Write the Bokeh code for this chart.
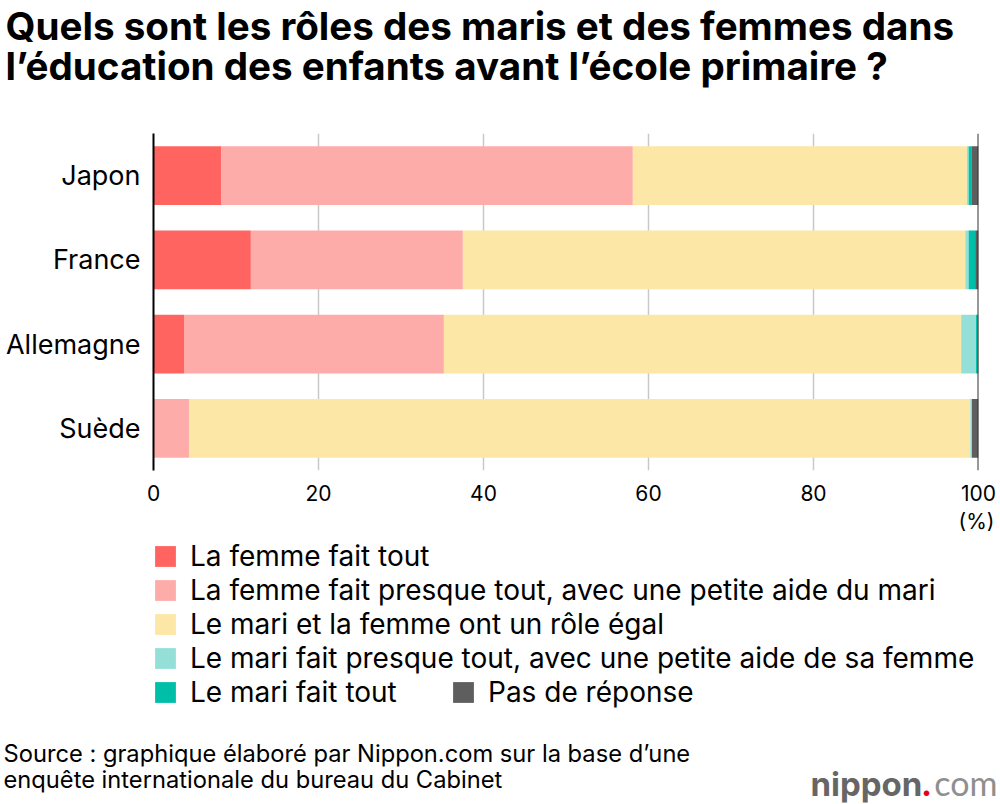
from bokeh.plotting import figure
from bokeh.layouts import column
from bokeh.models import (Range1d, FactorRange, Label, Legend, LegendItem, Span,
                          ColumnDataSource, FixedTicker)
from bokeh.embed import file_html
from bokeh.resources import INLINE

# ---- data -------------------------------------------------------------
countries = ["Japon", "France", "Allemagne", "Suède"]
femme_tout = [8.2, 11.8, 3.7, 0.0]
femme_presque = [49.9, 25.7, 31.5, 4.3]
role_egal = [40.5, 60.9, 62.7, 94.7]
mari_presque = [0.2, 0.4, 1.8, 0.2]
mari_tout = [0.4, 0.8, 0.2, 0.0]
sans_reponse = [0.8, 0.4, 0.1, 0.8]

series_keys = ["femme_tout", "femme_presque", "role_egal",
               "mari_presque", "mari_tout", "sans_reponse"]
series_labels = [
    "La femme fait tout",
    "La femme fait presque tout, avec une petite aide du mari",
    "Le mari et la femme ont un rôle égal",
    "Le mari fait presque tout, avec une petite aide de sa femme",
    "Le mari fait tout",
    "Pas de réponse",
]
colors = ["#FF6461", "#FEACA9", "#FCE7A6", "#94E0D8", "#00BFA9", "#5E5E5E"]
x_ticks = [0, 20, 40, 60, 80, 100]
unit_label = "(%)"

title_lines = ["Quels sont les rôles des maris et des femmes dans",
               "l’éducation des enfants avant l’école primaire ?"]
source_lines = ["Source : graphique élaboré par Nippon.com sur la base d’une",
                "enquête internationale du bureau du Cabinet"]

FONT = "Inter"
W = 1000
TOP_H = 133
MAIN_H = 375
BOT_H = 804 - TOP_H - MAIN_H

source = ColumnDataSource(dict(
    country=countries,
    femme_tout=femme_tout,
    femme_presque=femme_presque,
    role_egal=role_egal,
    mari_presque=mari_presque,
    mari_tout=mari_tout,
    sans_reponse=sans_reponse,
))


def blank_fig(height, **kw):
    f = figure(width=W, height=height, title=None,
               x_axis_type=None, y_axis_type=None,
               output_backend="svg", toolbar_location=None,
               min_border=0, frame_align=False, **kw)
    f.outline_line_color = None
    f.grid.visible = False
    return f


def add_label(fig, text, x, y, size, bold=False, color="black", align="left",
              font=FONT):
    fig.add_layout(Label(x=x, y=y, x_units="screen", y_units="screen", text=text,
                         text_font=font, text_font_size=size,
                         text_font_style="bold" if bold else "normal",
                         text_color=color, text_align=align,
                         text_baseline="middle"))


# ---- title ------------------------------------------------------------
top = blank_fig(TOP_H, x_range=Range1d(0, 1), y_range=Range1d(0, 1))
add_label(top, title_lines[0], 5, TOP_H - 25, "38.6px", bold=True)
add_label(top, title_lines[1], 5, TOP_H - 65, "38.6px", bold=True)

# ---- main chart -------------------------------------------------------
p = figure(width=W, height=MAIN_H, title=None,
           y_range=FactorRange(factors=list(reversed(countries))),
           x_range=Range1d(0, 100),
           output_backend="svg", toolbar_location=None,
           min_border_left=153, min_border_right=22,
           min_border_top=0, min_border_bottom=MAIN_H - 337,
           frame_align=False)
p.outline_line_color = None

renderers = p.hbar_stack(series_keys, y="country", height=0.7, color=colors,
                         line_color=None, source=source)

p.xaxis.ticker = FixedTicker(ticks=x_ticks)
p.xaxis.axis_line_color = None
p.xaxis.major_tick_line_color = None
p.xaxis.minor_tick_line_color = None
p.xaxis.major_tick_out = 0
p.xaxis.major_label_standoff = 14
p.xaxis.major_label_text_font = FONT
p.xaxis.major_label_text_font_size = "21px"
p.xaxis.major_label_text_color = "black"

p.yaxis.axis_line_color = "black"
p.yaxis.axis_line_width = 2
p.yaxis.major_tick_line_color = None
p.yaxis.minor_tick_line_color = None
p.yaxis.major_tick_out = 0
p.yaxis.major_label_standoff = 13
p.yaxis.major_label_text_font = FONT
p.yaxis.major_label_text_font_size = "27px"
p.yaxis.major_label_text_color = "black"

p.xgrid.ticker = FixedTicker(ticks=[20, 40, 60, 80])
p.xgrid.grid_line_color = "#c8c8c8"
p.xgrid.grid_line_width = 1.5
p.ygrid.grid_line_color = None

p.add_layout(Span(location=100, dimension="height", line_color="#333333",
                  line_width=2))

# ---- legend, source, logo --------------------------------------------
bot = blank_fig(BOT_H, x_range=Range1d(0, 100),
                y_range=FactorRange(factors=list(reversed(countries))))
y0 = TOP_H + MAIN_H  # reference y of the top of this panel

# hidden copies of the series, used only as legend keys
keys = bot.hbar_stack(series_keys, y="country", height=0.7, color=colors,
                      line_color=None, source=source, visible=False)
common = dict(glyph_width=26, glyph_height=26, label_standoff=12, spacing=-1,
              padding=0, margin=0, border_line_color=None,
              background_fill_alpha=0, inactive_fill_alpha=0,
              label_text_font=FONT, label_text_font_size="28px",
              label_height=26, label_text_color="black")
items1 = [LegendItem(label=series_labels[i], renderers=[keys[i]]) for i in range(5)]
items2 = [LegendItem(label=series_labels[5], renderers=[keys[5]])]
leg_bottom = BOT_H - (709 - y0)
bot.add_layout(Legend(items=items1, location=(152, leg_bottom), **common), "center")
bot.add_layout(Legend(items=items2, location=(450, leg_bottom), **common), "center")

add_label(bot, unit_label, 976, BOT_H - (521 - y0), "21px", align="center")
add_label(bot, source_lines[0], 3, BOT_H - (753 - y0), "23.7px")
add_label(bot, source_lines[1], 3, BOT_H - (779 - y0), "23.7px")
add_label(bot, "nippon", 810, BOT_H - (783 - y0), "33px", bold=True, color="#666666")
add_label(bot, ".", 926, BOT_H - (783 - y0), "33px", bold=True, color="#E60012",
          align="center")
add_label(bot, "com", 997, BOT_H - (782 - y0), "34px", color="#8f8f8f",
          align="right", font="Lato")

layout = column(top, p, bot, spacing=0)
open("out.html", "w").write(file_html(layout, INLINE))
